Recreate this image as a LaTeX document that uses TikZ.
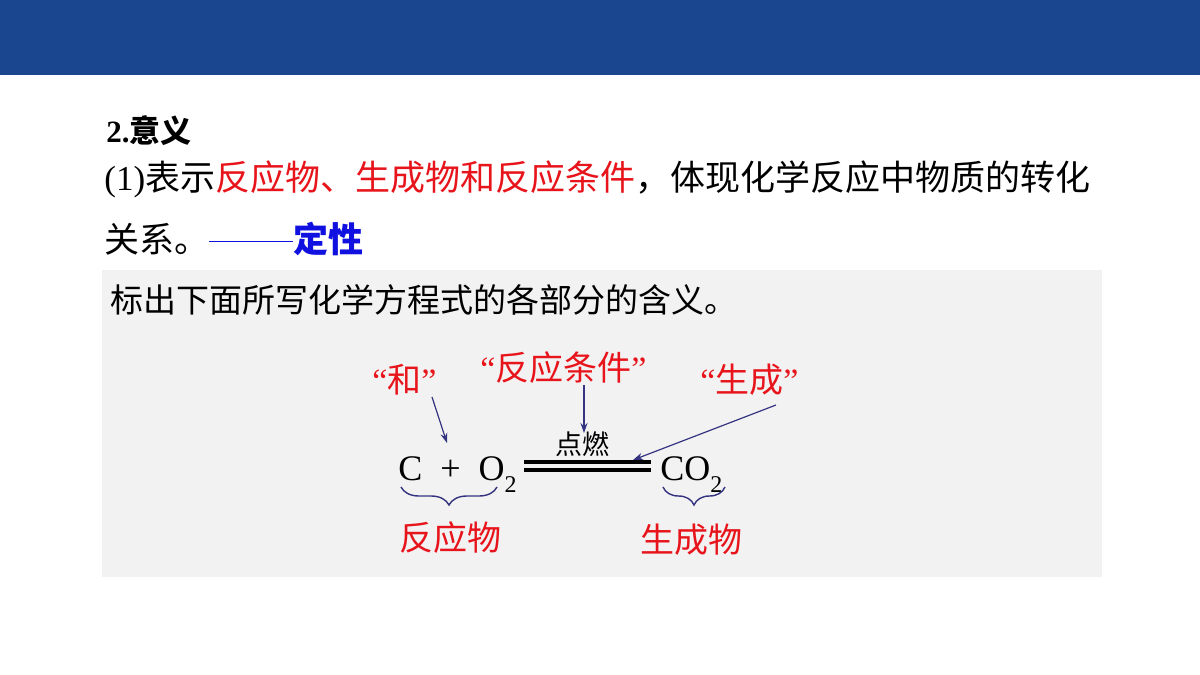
\documentclass[tikz,border=0pt]{standalone}
\usepackage{fontspec}
\setmainfont{Liberation Serif}
\newfontfamily\cjk{Noto Sans CJK SC}
\usetikzlibrary{decorations.pathreplacing,arrows.meta}
\definecolor{hdr}{HTML}{1A4690}
\definecolor{boxg}{HTML}{F2F2F2}
\definecolor{redt}{HTML}{E8141B}
\definecolor{bluet}{HTML}{1010E0}
\definecolor{navy}{HTML}{333380}
\newcommand{\lowsub}[1]{\raisebox{-0.35em}{\fontsize{12}{14}\selectfont #1}}
\tikzset{
 lbl/.style={inner sep=0pt,anchor=base west},
 red/.style={text=redt},
 arr/.style={navy,line width=0.6pt,-{Stealth[length=5pt,width=3.5pt]}},
 brc/.style={navy,line width=0.7pt,decorate,decoration={brace,mirror,amplitude=9pt}}
}
\begin{document}
\begin{tikzpicture}[x=0.5pt,y=-0.5pt]
\useasboundingbox (0,0) rectangle (1200,675);
\fill[white] (0,0) rectangle (1200,675);
\fill[hdr] (0,0) rectangle (1200,75);
\fill[boxg] (102,270) rectangle (1102,577);
\node[lbl] (t1) at (106,142) {\fontsize{15.5}{18}\selectfont\bfseries 2.{\cjk 意义}};
\node[lbl] (t2) at (104,190) {\fontsize{17.5}{20}\selectfont (1){\cjk 表示\textcolor{redt}{反应物、生成物和反应条件}，体现化学反应中物质的转化}};
\node[lbl] (t3) at (104,252) {\fontsize{17.5}{20}\selectfont\cjk 关系。\textcolor{bluet}{\rule[0.3em]{2.4em}{0.5pt}\bfseries 定性}};
\node[lbl] (t4) at (110,312) {\fontsize{16.5}{18}\selectfont\cjk 标出下面所写化学方程式的各部分的含义。};
% equation
\node[lbl] (eqL) at (398,480) {\fontsize{18}{20}\selectfont C\,\,\,+\,\,\,O\lowsub{2}};
\node[lbl] (eqR) at (660,480) {\fontsize{18}{20}\selectfont CO\lowsub{2}};
\draw[line width=1.6pt] (524,462) -- (651,462) (524,470) -- (651,470);
\node[lbl] (cond) at (555,454) {\fontsize{13.5}{15}\selectfont\cjk 点燃};
\node[lbl,red] (he) at (372,392) {\fontsize{17}{18}\selectfont “{\cjk 和}”};
\node[lbl,red] (fytj) at (480,380) {\fontsize{17}{18}\selectfont “{\cjk 反应条件}”};
\node[lbl,red] (sc) at (700,392) {\fontsize{17}{18}\selectfont “{\cjk 生成}”};
\coordinate (a1) at (447,443);
\coordinate (a2) at (584,433);
\coordinate (a3) at (633,460);
\draw[arr] (432,397) -- (a1);
\draw[arr] (584,385) -- (a2);
\draw[arr] (776,405) -- (a3);
\draw[brc] (401,487) -- (497,487);
\draw[brc] (663,487) -- (725,487);
\node[lbl,red] (fyw) at (399,550) {\fontsize{17}{18}\selectfont\cjk 反应物};
\node[lbl,red] (scw) at (640,552) {\fontsize{17}{18}\selectfont\cjk 生成物};
\end{tikzpicture}
\end{document}
